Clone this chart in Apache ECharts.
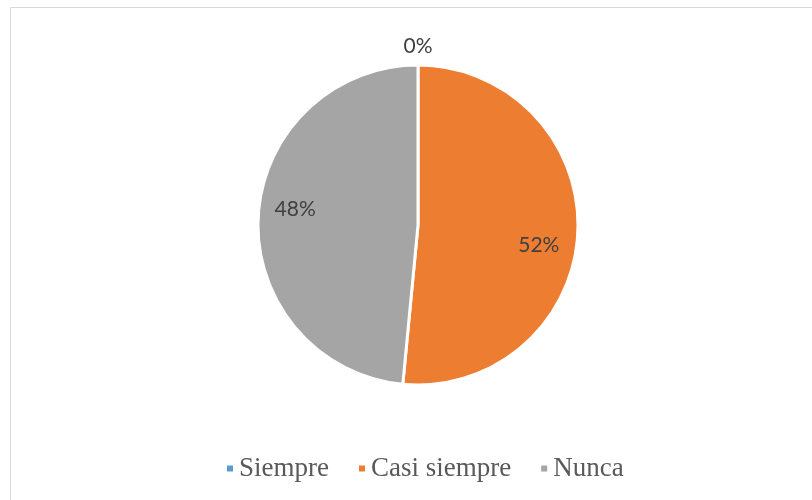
<!DOCTYPE html>
<html>
<head>
<meta charset="utf-8">
<script src="https://cdn.jsdelivr.net/npm/echarts@6/dist/echarts.min.js"></script>
<style>
html,body{margin:0;padding:0;background:#fff;}
#chart{width:812px;height:500px;}
</style>
</head>
<body>
<div id="chart"></div>
<script>
const categories = ['Siempre', 'Casi siempre', 'Nunca'];
const values = [0, 17, 16];
const percentLabels = ['0%', '52%', '48%'];
const colors = ['#5b9bd5', '#ed7d31', '#a5a5a5'];

const labelOffsets = [[0, -54], [-4, 14], [2, -10]];

const chart = echarts.init(document.getElementById('chart'));
const option = {
  animation: false,
  graphic: [{
    type: 'rect',
    shape: {x: 10.5, y: 7.5, width: 900, height: 700},
    style: {fill: 'none', stroke: '#d9d9d9', lineWidth: 1},
    silent: true, z: -1
  }],
  legend: {
    data: categories.map((c, i) => ({name: c, itemStyle: {color: colors[i]}})),
    left: 220,
    top: 450,
    icon: 'rect',
    itemWidth: 8,
    itemHeight: 8,
    itemGap: 28,
    textStyle: {fontFamily: 'Liberation Serif', fontSize: 27, color: '#595959', padding: [0, 0, 0, 0]},
    selectedMode: false
  },
  series: [{
    type: 'pie',
    center: [418, 225],
    radius: 160,
    startAngle: 90,
    clockwise: true,
    silent: true,
    label: {show: false},
    labelLine: {show: false},
    itemStyle: {borderColor: '#fff', borderWidth: 3},
    data: categories.map((c, i) => ({name: c, value: values[i], itemStyle: {color: colors[i]}}))
  }, {
    type: 'pie',
    center: [418, 225],
    radius: [0, 244],
    startAngle: 90,
    clockwise: true,
    silent: true,
    z: 5,
    itemStyle: {color: 'rgba(0,0,0,0)', borderWidth: 0},
    labelLine: {show: false},
    data: categories.map((c, i) => ({
      name: c, value: values[i],
      label: {
        show: true, position: 'inside',
        formatter: percentLabels[i],
        offset: labelOffsets[i],
        fontFamily: 'Lato', fontSize: 21, color: '#404040'
      }
    }))
  }]
};
chart.setOption(option);
</script>
</body>
</html>
